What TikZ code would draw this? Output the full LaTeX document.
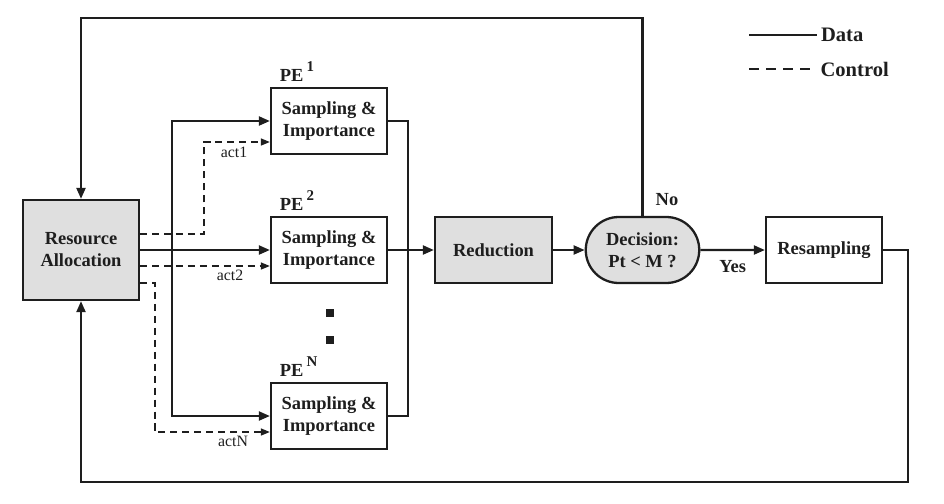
\documentclass[tikz,border=0pt]{standalone}
\usepackage{fontspec}
\setmainfont{Liberation Serif}
\usepackage{xcolor}
\usetikzlibrary{arrows.meta, positioning, shapes.misc}
\definecolor{boxgray}{HTML}{DFDFDF}
\definecolor{inkdark}{HTML}{1E1E1E}

\begin{document}
\begin{tikzpicture}[
  color=inkdark,
  blk/.style={draw, line width=1.3pt, minimum width=2.32cm, minimum height=1.32cm, font=\fontsize{10.5}{12.5}\selectfont\bfseries, align=center, inner sep=1pt},
  grayblk/.style={blk, fill=boxgray},
  wire/.style={line width=1.2pt},
  data/.style={wire, -{Triangle[length=2.2mm, width=1.8mm]}},
  ctrl/.style={line width=0.8pt, dash pattern=on 4pt off 2.8pt, -{Triangle[length=1.8mm, width=1.4mm]}},
  pelabel/.style={font=\fontsize{10.5}{12}\selectfont\bfseries, anchor=south west, inner sep=1pt},
  actlabel/.style={font=\fontsize{9}{10}\selectfont, inner sep=1pt},
  lbl/.style={font=\fontsize{10.5}{12}\selectfont\bfseries, inner sep=1pt},
  legend/.style={font=\fontsize{11.7}{14}\selectfont\bfseries, anchor=west, inner sep=1pt},
  dotmark/.style={fill, minimum size=0.16cm, inner sep=0pt},
]
  \useasboundingbox (0,0) rectangle (18.88,10.06);

  % Blocks
  \node[grayblk, minimum height=2cm] (alloc) at (1.62,5.06) {Resource\\Allocation};
  \node[blk] (pe1) at (6.58,7.64) {Sampling \&\\Importance};
  \node[blk] (pe2) at (6.58,5.06) {Sampling \&\\Importance};
  \node[blk] (peN) at (6.58,1.74) {Sampling \&\\Importance};
  \node[grayblk, minimum width=2.34cm] (reduce) at (9.87,5.06) {Reduction};
  \node[grayblk, shape=rounded rectangle, minimum width=2.34cm] (decide) at (12.85,5.06) {Decision:\\Pt < M ?};
  \node[blk] (resamp) at (16.48,5.06) {Resampling};

  % PE labels
  \node[pelabel] (pe1lbl) at ([xshift=0.16cm, yshift=0.06cm]pe1.north west) {PE\,\raisebox{6pt}{\fontsize{8.5}{9}\selectfont 1}};
  \node[pelabel] (pe2lbl) at ([xshift=0.16cm, yshift=0.06cm]pe2.north west) {PE\,\raisebox{6pt}{\fontsize{8.5}{9}\selectfont 2}};
  \node[pelabel] (peNlbl) at ([xshift=0.16cm, yshift=0.06cm]peN.north west) {PE\,\raisebox{6pt}{\fontsize{8.5}{9}\selectfont N}};

  % Dots between PEs
  \node[dotmark] (dot1) at (6.6,3.80) {};
  \node[dotmark] (dot2) at (6.6,3.26) {};

  % Data into PEs
  \coordinate (fork) at (3.44,5.06);
  \draw[data] (alloc.east) -- (pe2.west);
  \draw[data] (fork) |- (pe1.west);
  \draw[data] (fork) |- (peN.west);

  % Control into PEs
  \coordinate (ctl1) at ([yshift=0.32cm]alloc.east);
  \coordinate (bend1) at (4.08,7.22);
  \draw[ctrl] (ctl1) -| (bend1) -- (bend1 -| pe1.west);
  \coordinate (ctl2) at ([yshift=-0.32cm]alloc.east);
  \draw[ctrl] (ctl2) -- (ctl2 -| pe2.west);
  \coordinate (ctl3) at ([yshift=-0.66cm]alloc.east);
  \coordinate (bend3) at (3.10,1.42);
  \draw[ctrl] (ctl3) -| (bend3) -- (bend3 -| peN.west);
  \node[actlabel] (act1) at (4.68,7.02) {act1};
  \node[actlabel] (act2) at (4.60,4.56) {act2};
  \node[actlabel] (actN) at (4.66,1.24) {actN};

  % PE outputs to reduction
  \coordinate (join) at (8.16,5.06);
  \draw[wire] (pe1.east) -| (join);
  \draw[wire] (peN.east) -| (join);
  \draw[data] (pe2.east) -- (reduce.west);
  \draw[data] (reduce) -- (decide);
  \draw[data] (decide) -- node[lbl, below=0.16cm] (yes) {Yes} (resamp);
  \node[lbl] (no) at (13.34,6.06) {No};

  % Feedback loops
  \coordinate (ceil) at (0,9.70);
  \draw[data] (decide.north) -- (decide.north |- ceil) -| (alloc.north);
  \coordinate (floor) at (18.16,0.42);
  \draw[data] (resamp.east) -| (floor) -| (alloc.south);

  % Legend
  \coordinate (leg1) at (14.98,9.36);
  \node[legend] (ldata) at (16.38,9.36) {Data};
  \draw[wire] (leg1) -- ([xshift=-0.04cm]ldata.west);
  \coordinate (leg2) at (14.98,8.68);
  \node[legend] (lctrl) at (16.37,8.68) {Control};
  \draw[line width=0.8pt, dash pattern=on 5.7pt off 4pt] (leg2) -- ([xshift=-0.17cm]lctrl.west);
\end{tikzpicture}
\end{document}
